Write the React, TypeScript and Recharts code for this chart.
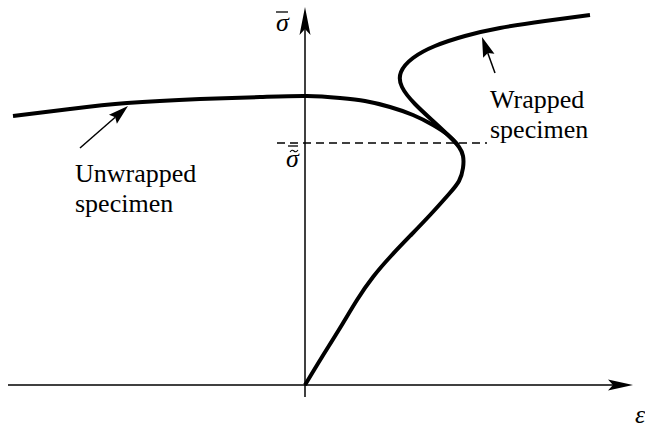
import React from 'react';
import { LineChart, Line, XAxis, YAxis, ReferenceLine, ReferenceDot } from 'recharts';

// strain / stress readings, wrapped specimen (S-shaped response)
const wrappedStrain = [0, 0.17, 0.35, 0.52, 0.68, 0.86, 1.06, 1.26, 1.44, 1.54, 1.58, 1.58, 1.54, 1.45, 1.28, 1.1, 0.97, 0.96, 1.08, 1.3, 1.6, 1.95, 2.4, 2.85];
const wrappedStress = [0, 0.28, 0.57, 0.85, 1.08, 1.29, 1.5, 1.71, 1.91, 2.04, 2.17, 2.29, 2.38, 2.48, 2.64, 2.81, 2.98, 3.13, 3.27, 3.39, 3.49, 3.57, 3.64, 3.7];

// unwrapped specimen, softening branch
const unwrappedStrain = [-2.92, -2.35, -1.78, -1.05, -0.45, 0.02, 0.35, 0.6, 0.85, 1.08, 1.28, 1.43, 1.53];
const unwrappedStress = [2.69, 2.76, 2.82, 2.86, 2.88, 2.89, 2.87, 2.84, 2.78, 2.7, 2.6, 2.5, 2.4];

// stress level of the dashed marker line
const markStress = 2.42;

const wrapped = wrappedStrain.map((x, i) => ({ x, y: wrappedStress[i] }));
const unwrapped = unwrappedStrain.map((x, i) => ({ x, y: unwrappedStress[i] }));

const FONT = '"Liberation Serif", "Times New Roman", serif';

// line with a filled head at (x2, y2)
const arrow = (len: number, half: number, notch: number, width: number) => (p: any) => {
  const { x1, y1, x2, y2 } = p;
  const a = Math.atan2(y2 - y1, x2 - x1);
  const ux = Math.cos(a), uy = Math.sin(a);
  const px = -uy, py = ux;
  const bx = x2 - len * ux, by = y2 - len * uy;
  const nx = x2 - notch * ux, ny = y2 - notch * uy;
  const pts = [
    [x2, y2],
    [bx + half * px, by + half * py],
    [nx, ny],
    [bx - half * px, by - half * py],
  ].map((q) => q.join(',')).join(' ');
  return (
    <g>
      <line x1={x1} y1={y1} x2={nx} y2={ny} stroke="#000" strokeWidth={width} />
      <polygon points={pts} fill="#000" />
    </g>
  );
};

const textShape = (lines: string[], size = 26, italic = false) => (p: any) => (
  <text x={p.cx} y={p.cy} fontFamily={FONT} fontSize={size} fontStyle={italic ? 'italic' : 'normal'} fill="#000">
    {lines.map((s, i) => (
      <tspan key={i} x={p.cx} dy={i === 0 ? 0 : 30}>{s}</tspan>
    ))}
  </text>
);

// σ with an overbar, optionally with a tilde between bar and letter
const sigmaShape = (tilde: boolean) => (p: any) => {
  const { cx, cy } = p;
  return (
    <g>
      <text x={cx} y={cy} fontFamily={FONT} fontSize={26} fontStyle="italic" fill="#000">σ</text>
      {tilde ? (
        <>
          <line x1={cx + 2} y1={cy - 21} x2={cx + 12} y2={cy - 21} stroke="#000" strokeWidth={1.3} />
          <path d={`M ${cx + 4} ${cy - 15} q 2 -3 4 -1 t 4 -1`} stroke="#000" strokeWidth={1.1} fill="none" />
        </>
      ) : (
        <line x1={cx} y1={cy - 19} x2={cx + 12} y2={cy - 19} stroke="#000" strokeWidth={1.3} />
      )}
    </g>
  );
};

export default function App() {
  return (
    <div style={{ position: 'absolute', left: 0, top: 0, background: '#fff' }}>
      <LineChart width={645} height={428} margin={{ top: 0, right: 0, bottom: 0, left: 0 }}>
        <XAxis type="number" dataKey="x" domain={[-3.05, 3.4]} hide allowDataOverflow />
        <YAxis type="number" dataKey="y" domain={[-0.43, 3.85]} hide allowDataOverflow />

        {/* axes */}
        <ReferenceLine segment={[{ x: -2.97, y: 0 }, { x: 3.28, y: 0 }]} shape={arrow(25, 5.5, 20, 1.5)} />
        <ReferenceLine segment={[{ x: 0, y: -0.12 }, { x: 0, y: 3.78 }]} shape={arrow(28, 5.5, 22, 1.5)} />

        <ReferenceLine
          segment={[{ x: -0.28, y: markStress }, { x: 1.82, y: markStress }]}
          stroke="#000"
          strokeWidth={1.5}
          strokeDasharray="8 5"
        />

        <Line data={unwrapped} dataKey="y" type="natural" stroke="#000" strokeWidth={4} dot={false} activeDot={false} isAnimationActive={false} />
        <Line data={wrapped} dataKey="y" type="natural" stroke="#000" strokeWidth={4} dot={false} activeDot={false} isAnimationActive={false} />

        {/* annotation pointers */}
        <ReferenceLine segment={[{ x: -2.25, y: 2.37 }, { x: -1.77, y: 2.79 }]} shape={arrow(20, 6, 17, 1.5)} />
        <ReferenceLine segment={[{ x: 1.9, y: 3.12 }, { x: 1.77, y: 3.48 }]} shape={arrow(20, 6, 17, 1.5)} />

        <ReferenceDot x={-2.3} y={2.03} shape={textShape(['Unwrapped', 'specimen'])} />
        <ReferenceDot x={1.85} y={2.77} shape={textShape(['Wrapped', 'specimen'])} />
        <ReferenceDot x={-0.29} y={3.54} shape={sigmaShape(false)} />
        <ReferenceDot x={-0.19} y={2.18} shape={sigmaShape(true)} />
        <ReferenceDot x={3.3} y={-0.38} shape={textShape(['ε'], 26, true)} />
      </LineChart>
    </div>
  );
}
